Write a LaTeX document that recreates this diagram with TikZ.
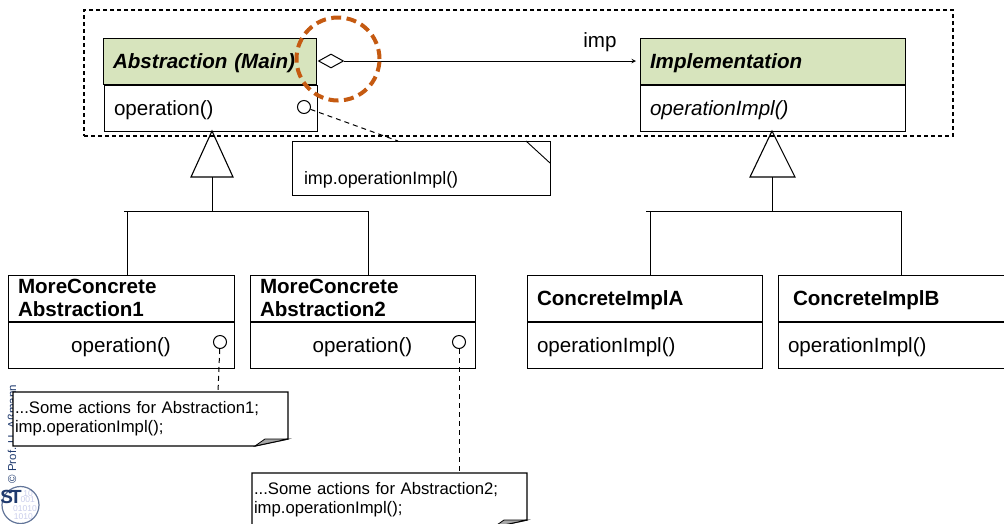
\documentclass[tikz,border=0pt]{standalone}
\usepackage{fontspec}
\setmainfont{Liberation Sans}
\usepackage{xcolor}
\usepackage{tikz}
\usetikzlibrary{calc,shapes.geometric}
\definecolor{headgreen}{HTML}{D7E4BD}
\definecolor{ringorange}{HTML}{C55A11}
\definecolor{logoblue}{HTML}{1F3A6E}
\definecolor{logodigit}{HTML}{C9CDEB}
\tikzset{
    boxline/.style={draw, line width=1pt, outer sep=0pt},
    head/.style={boxline, anchor=north west, align=left, inner ysep=0pt, inner xsep=10pt,
        minimum height=46pt, text height=19pt, text depth=4.4pt,
        font=\fontsize{20.6}{23}\selectfont\bfseries},
    two lines/.style={text height=15pt, text depth=25pt},
    green head/.style={head, fill=headgreen, font=\fontsize{20.6}{23}\selectfont\bfseries\itshape},
    body/.style={boxline, anchor=north west, align=left, inner ysep=0pt, inner xsep=10pt,
        minimum height=46pt, text height=19pt, text depth=4.4pt,
        font=\fontsize{20.6}{23}\selectfont},
    notetext/.style={anchor=north west, fill=white, align=left, inner sep=0pt, inner xsep=2pt, outer sep=0pt,
        minimum height=54pt, font=\fontsize{16.7}{19}\selectfont},
    noteline/.style={line width=1.3pt, line join=miter},
    opcircle/.style={circle, draw, line width=1pt, minimum size=13pt, inner sep=0pt},
    hook/.style={dash pattern=on 5pt off 4pt, line width=1pt},
    hollow/.style={line width=1.1pt},
    tree/.style={line width=.9pt},
    stdigit/.style={text=logodigit, inner sep=0pt, font=\fontsize{8.5}{8.5}\selectfont},
}
\begin{document}
\begin{tikzpicture}[x=1pt, y=-1pt]
    \useasboundingbox (0,0) rectangle (1004,523);
    % logo
    \node (credit) [rotate=90, anchor=west, text=logoblue, font=\fontsize{11.5}{11.5}\selectfont]
        at (12,487) {© Prof. U. Aßmann};
    \node (stDigitA) [stdigit, anchor=east] at (33,493.5) {10};
    \node (stDigitB) [stdigit, anchor=east] at (35,500) {001};
    \node (stDigitC) [stdigit, anchor=east] at (37,509) {01010};
    \node (stDigitD) [stdigit, anchor=east] at (33,517) {1010};
    \node (stRing) [circle, draw=logoblue!70, line width=1.2pt, minimum size=37pt, inner sep=0pt] at (20.5,505) {};
    \node (stMark) [text=logoblue, inner sep=0pt, font=\fontsize{19}{19}\selectfont\bfseries] at (11,497) {S\kern-3pt T};

    \node (bridgeFrame) [draw, dash pattern=on 4pt off 3pt, line width=1.5pt, anchor=north west, minimum width=869pt,
        minimum height=126pt, inner sep=0pt, outer sep=0pt] at (84,10) {};

    % classes
    \node (absHead) [green head, text width=193pt] at (103,38) {Abstraction (Main)};
    \node (absBody) [body, text width=193pt] at (104,85) {operation()};
    \node (implHead) [green head, text width=245pt] at (640,38) {Implementation};
    \node (implBody) [body, text width=245pt, font=\fontsize{20.6}{23}\selectfont\itshape] at (640,85) {operationImpl()};

    \node (moreAHead) [head, two lines, text width=206pt] at (8,275) {MoreConcrete\\Abstraction1};
    \node (moreABody) [body, text width=206pt, align=center] at (8,322) {operation()};
    \node (moreBHead) [head, two lines, text width=205pt] at (250,275) {MoreConcrete\\Abstraction2};
    \node (moreBBody) [body, text width=205pt, align=center] at (250,322) {operation()};

    \node (concAHead) [head, text width=215pt] at (527,275) {ConcreteImplA};
    \node (concABody) [body, text width=215pt] at (527,322) {operationImpl()};
    \node (concBHead) [head, text width=215pt, inner xsep=15pt] at (778,275) {ConcreteImplB};
    \node (concBBody) [body, text width=220pt] at (778,322) {operationImpl()};

    % aggregation
    \node (aggr) [diamond, draw, line width=1pt, aspect=1.8, minimum width=25pt, minimum height=14pt, inner sep=0pt] at (331,61) {};
    \draw [->, >=stealth, line width=1pt, shorten >=4pt] (aggr.east) -- (implHead.west);
    \node (impLabel) [font=\fontsize{20.6}{23}\selectfont, inner sep=0pt] at (600,42) {imp};

    % inheritance, left
    \coordinate (absTip) at (212,131);
    \coordinate (absBase) at (212,177);
    \coordinate (absBar) at (212,211);
    \coordinate (barAL) at (124,211);
    \coordinate (barAA) at (127,211);
    \coordinate (barAB) at (368,211);
    \draw [hollow] (absTip) -- (191,177) -- (233,177) -- cycle;
    \draw [tree] (absBase) -- (absBar);
    \draw [tree] (barAL) -- (barAB);
    \draw [tree] (barAA) -- (barAA |- moreAHead.north);
    \draw [tree] (barAB) -- (barAB |- moreBHead.north);

    % inheritance, right
    \coordinate (implTip) at (772,131);
    \coordinate (implBase) at (772,177);
    \coordinate (implBar) at (772,211);
    \coordinate (barBL) at (646,211);
    \coordinate (barBA) at (650,211);
    \coordinate (barBB) at (901,211);
    \draw [hollow] (implTip) -- (750,177) -- (795,177) -- cycle;
    \draw [tree] (implBase) -- (implBar);
    \draw [tree] (barBL) -- (barBB);
    \draw [tree] (barBA) -- (barBA |- concAHead.north);
    \draw [tree] (barBB) -- (barBB |- concBHead.north);

    % notes
    \node (noteMain) [notetext, minimum width=258pt, text width=234pt, inner xsep=12pt, text height=35pt, text depth=3pt,
        font=\fontsize{17.9}{20}\selectfont] at (292,141) {imp.operationImpl()};
    \draw [line width=.9pt] (noteMain.north west) -- (noteMain.north east) -- (noteMain.south east)
        -- (noteMain.south west) -- cycle;
    \draw [line width=.9pt] ($(noteMain.north east)+(-24,0)$) -- ($(noteMain.north east)+(0,22)$);
    \node (opMain) [opcircle] at (304,107) {};
    \coordinate (pinMain) at (398,141);
    \draw [hook] (opMain) -- (pinMain);

    \node (noteA) [notetext, minimum width=275pt, text width=271pt] at (13,392) {...Some actions for Abstraction1;\\imp.operationImpl();};
    \draw [noteline] (noteA.south west) -- (noteA.north west) -- (noteA.north east)
        -- ($(noteA.south east)+(0,-7)$) -- ($(noteA.south east)+(-33,0)$) -- cycle;
    \filldraw [fill=black!35, line width=.8pt] ($(noteA.south east)+(-33,0)$) -- ($(noteA.south east)+(-23,-7)$) -- ($(noteA.south east)+(0,-7)$) -- cycle;
    \node (opA) [opcircle] at (220,342) {};
    \coordinate (pinA) at (218,392);
    \draw [hook] (opA) -- (pinA);

    \node (noteB) [notetext, minimum width=275pt, text width=271pt] at (252,473) {...Some actions for Abstraction2;\\imp.operationImpl();};
    \draw [noteline] (noteB.south west) -- (noteB.north west) -- (noteB.north east)
        -- ($(noteB.south east)+(0,-7)$) -- ($(noteB.south east)+(-33,0)$) -- cycle;
    \filldraw [fill=black!35, line width=.8pt] ($(noteB.south east)+(-33,0)$) -- ($(noteB.south east)+(-23,-7)$) -- ($(noteB.south east)+(0,-7)$) -- cycle;
    \node (opB) [opcircle] at (459,342) {};
    \coordinate (pinB) at (459,472);
    \draw [hook] (opB) -- (pinB);

    \node (focusRing) [circle, draw=ringorange, line width=4pt, dash pattern=on 10pt off 5.5pt, minimum size=83pt, inner sep=0pt] at (338,59) {};
\end{tikzpicture}
\end{document}
